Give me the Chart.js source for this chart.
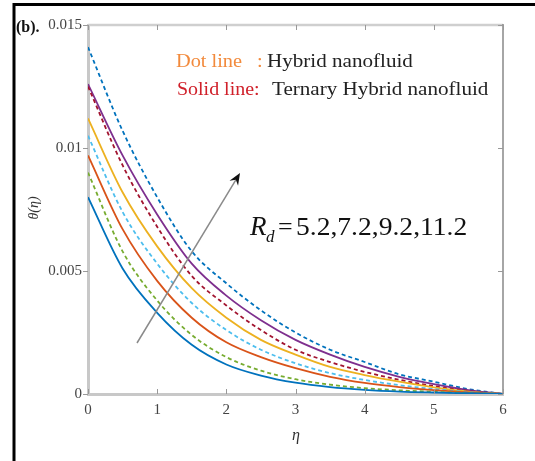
<!DOCTYPE html>
<html>
<head>
<meta charset="utf-8">
<script src="https://cdn.jsdelivr.net/npm/chart.js@4.4.1/dist/chart.umd.min.js"></script>
<style>
  html, body { margin: 0; padding: 0; background: #fff; }
  #wrap { position: relative; width: 535px; height: 461px; }
</style>
</head>
<body>
<div id="wrap"><canvas id="chart" width="535" height="461"></canvas></div>
<script>
// ---- data ----
const eta = [0, 0.5, 1, 1.5, 2, 2.5, 3, 3.5, 4, 4.5, 5, 5.5, 6];

// solid lines: ternary hybrid nanofluid, Rd = 5.2, 7.2, 9.2, 11.2
const thnfRd52  = [0.0080, 0.0051, 0.0033, 0.0020, 0.0012, 0.00075, 0.00046, 0.00028, 0.00017, 0.00010, 0.00006, 0.00003, 0];
const thnfRd72  = [0.0097, 0.0067, 0.0046, 0.0031, 0.0021, 0.0015, 0.00105, 0.00070, 0.00045, 0.00028, 0.00016, 0.00007, 0];
const thnfRd92  = [0.0112, 0.0082, 0.0060, 0.0043, 0.0031, 0.0022, 0.0016, 0.0011, 0.00077, 0.00050, 0.00027, 0.00010, 0];
const thnfRd112 = [0.0126, 0.0097, 0.0073, 0.0053, 0.0040, 0.0030, 0.0022, 0.0016, 0.0011, 0.00070, 0.00040, 0.00016, 0];

// dotted lines: hybrid nanofluid, Rd = 5.2, 7.2, 9.2, 11.2
const hnfRd52  = [0.0090, 0.0058, 0.0038, 0.0024, 0.0015, 0.00095, 0.00060, 0.00038, 0.00024, 0.00015, 0.00009, 0.00004, 0];
const hnfRd72  = [0.0105, 0.0074, 0.0053, 0.0037, 0.0026, 0.0018, 0.00125, 0.00085, 0.00057, 0.00036, 0.00020, 0.00008, 0];
const hnfRd92  = [0.0125, 0.0093, 0.0068, 0.0048, 0.0036, 0.0026, 0.0018, 0.0013, 0.0009, 0.00058, 0.00032, 0.00012, 0];
const hnfRd112 = [0.0141, 0.0107, 0.0080, 0.0058, 0.0045, 0.0034, 0.0025, 0.0018, 0.0013, 0.00080, 0.00050, 0.00020, 0];

const xTicks = [0, 1, 2, 3, 4, 5, 6];
const yTicks = [0, 0.005, 0.01, 0.015];
const yTickLabels = ['0', '0.005', '0.01', '0.015'];

const SERIF = '"Liberation Serif", "DejaVu Serif", serif';

function series(arr, color, dashed) {
  return {
    data: eta.map((x, i) => ({ x: x, y: arr[i] })),
    borderColor: color,
    borderWidth: 1.8,
    borderDash: dashed ? [4, 3] : [],
    pointRadius: 0,
    fill: false,
    cubicInterpolationMode: 'monotone'
  };
}

// text squeezed/stretched sideways like the source image
function wideText(ctx, str, x, y, sx) {
  ctx.save();
  ctx.translate(x, y);
  ctx.scale(sx, 1);
  ctx.fillText(str, 0, 0);
  ctx.restore();
}

// frame, extra axis lines, ticks, arrow and text labels
const decor = {
  id: 'decor',
  afterDraw(chart) {
    const ctx = chart.ctx;
    const { left, right, top, bottom } = chart.chartArea;
    const xs = chart.scales.x, ys = chart.scales.y;
    ctx.save();

    // outer black frame
    ctx.strokeStyle = '#000';
    ctx.lineWidth = 3;
    ctx.beginPath();
    ctx.moveTo(14, 461); ctx.lineTo(14, 4.5); ctx.lineTo(535, 4.5);
    ctx.stroke();

    // top + right box lines
    ctx.strokeStyle = '#cfcfcf';
    ctx.lineWidth = 2.5;
    ctx.beginPath(); ctx.moveTo(left, top); ctx.lineTo(right, top); ctx.stroke();
    ctx.strokeStyle = '#888';
    ctx.lineWidth = 1.5;
    ctx.beginPath(); ctx.moveTo(right, top - 1); ctx.lineTo(right, bottom); ctx.stroke();

    // ticks
    ctx.strokeStyle = '#999';
    ctx.lineWidth = 1;
    ctx.beginPath();
    xTicks.forEach(v => {
      const px = Math.round(xs.getPixelForValue(v)) + 0.5;
      ctx.moveTo(px, bottom); ctx.lineTo(px, bottom - 5);
      ctx.moveTo(px, top); ctx.lineTo(px, top + 5);
    });
    yTicks.forEach(v => {
      const py = Math.round(ys.getPixelForValue(v)) + 0.5;
      ctx.moveTo(left - 5, py); ctx.lineTo(left, py);
      ctx.moveTo(right, py); ctx.lineTo(right - 5, py);
    });
    ctx.stroke();

    // arrow
    const ax0 = 137, ay0 = 343, ax1 = 240, ay1 = 173;
    const ang = Math.atan2(ay1 - ay0, ax1 - ax0);
    const c = Math.cos(ang), s = Math.sin(ang);
    ctx.strokeStyle = '#8a8a8a';
    ctx.lineWidth = 1.5;
    ctx.beginPath();
    ctx.moveTo(ax0, ay0);
    ctx.lineTo(ax1 - 8 * c, ay1 - 8 * s);
    ctx.stroke();
    ctx.fillStyle = '#111';
    ctx.beginPath();
    ctx.moveTo(ax1, ay1);
    ctx.lineTo(ax1 - 12 * c + 5 * s, ay1 - 12 * s - 5 * c);
    ctx.lineTo(ax1 - 8 * c, ay1 - 8 * s);
    ctx.lineTo(ax1 - 12 * c - 5 * s, ay1 - 12 * s + 5 * c);
    ctx.closePath();
    ctx.fill();

    // panel label
    ctx.textAlign = 'left';
    ctx.textBaseline = 'alphabetic';
    ctx.fillStyle = '#111';
    ctx.font = 'bold 16px ' + SERIF;
    ctx.fillText('(b).', 16, 32);

    // legend text
    ctx.font = '19px ' + SERIF;
    ctx.fillStyle = '#F28A3C';
    wideText(ctx, 'Dot line', 176, 67, 1.07);
    wideText(ctx, ':', 257, 67, 1.07);
    ctx.fillStyle = '#222';
    wideText(ctx, 'Hybrid nanofluid', 267, 67, 1.11);
    ctx.fillStyle = '#D0202A';
    wideText(ctx, 'Solid line:', 177, 95, 1.05);
    ctx.fillStyle = '#222';
    wideText(ctx, 'Ternary Hybrid nanofluid', 272, 95, 1.11);

    // parameter annotation
    ctx.fillStyle = '#111';
    ctx.font = 'italic 27px ' + SERIF;
    ctx.fillText('R', 250, 235);
    ctx.font = 'italic 17px ' + SERIF;
    ctx.fillText('d', 266, 242);
    ctx.font = '26px ' + SERIF;
    ctx.fillText('=', 278, 235);
    wideText(ctx, '5.2,7.2,9.2,11.2', 296, 235, 1.06);

    // axis titles
    ctx.fillStyle = '#333';
    ctx.textAlign = 'center';
    ctx.textBaseline = 'middle';
    ctx.font = 'italic 16px ' + SERIF;
    ctx.fillText('\u03B7', 296, 436);
    ctx.save();
    ctx.translate(34, 208);
    ctx.rotate(-Math.PI / 2);
    ctx.font = 'italic 14px ' + SERIF;
    ctx.fillText('\u03B8(\u03B7)', 0, 0);
    ctx.restore();

    ctx.restore();
  }
};

new Chart(document.getElementById('chart'), {
  type: 'line',
  data: {
    datasets: [
      series(thnfRd52,  '#0072BD', false),
      series(hnfRd52,   '#77AC30', true),
      series(thnfRd72,  '#D95319', false),
      series(hnfRd72,   '#4DBEEE', true),
      series(thnfRd92,  '#EDB120', false),
      series(hnfRd92,   '#A2142F', true),
      series(thnfRd112, '#7E2F8E', false),
      series(hnfRd112,  '#0072BD', true)
    ]
  },
  options: {
    responsive: false,
    animation: false,
    layout: { autoPadding: false, padding: { left: 0, top: 25, right: 32, bottom: 0 } },
    plugins: { legend: { display: false }, tooltip: { enabled: false } },
    scales: {
      x: {
        type: 'linear', min: 0, max: 6,
        afterBuildTicks: s => { s.ticks = xTicks.map(v => ({ value: v })); },
        afterFit: s => { s.height = 67; },
        ticks: { color: '#444', padding: 7, maxRotation: 0, font: { family: SERIF, size: 15 }, callback: v => String(v) },
        grid: { drawOnChartArea: false, drawTicks: false },
        border: { color: '#c8c8c8', width: 3 }
      },
      y: {
        type: 'linear', min: 0, max: 0.015,
        afterBuildTicks: s => { s.ticks = yTicks.map(v => ({ value: v })); },
        afterFit: s => { s.width = 88; },
        ticks: {
          color: '#444', padding: 6, font: { family: SERIF, size: 15 },
          callback: v => yTickLabels[yTicks.indexOf(v)] ?? ''
        },
        grid: { drawOnChartArea: false, drawTicks: false },
        border: { color: '#c8c8c8', width: 3 }
      }
    }
  },
  plugins: [decor]
});
</script>
</body>
</html>
